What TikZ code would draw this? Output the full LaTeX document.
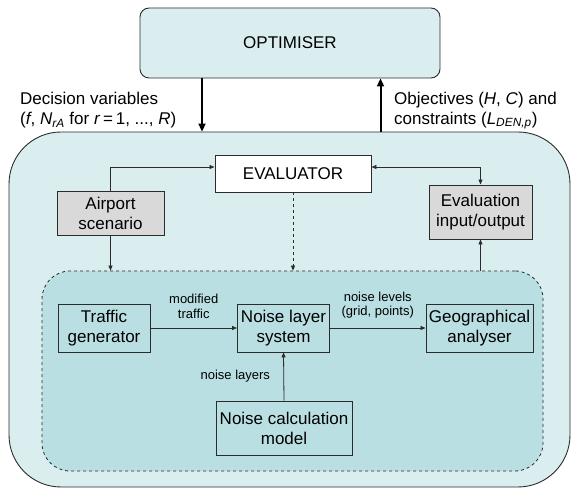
\documentclass[tikz,border=0pt]{standalone}
\usepackage{fontspec}
\setmainfont{Liberation Sans}
\usetikzlibrary{arrows.meta,calc}
\definecolor{outerfill}{HTML}{DAEEF0}
\definecolor{innerfill}{HTML}{B9DFE2}
\definecolor{grayfill}{HTML}{D9D9D9}
\definecolor{edge}{HTML}{2B2B2B}
\tikzset{
  big/.style={font=\fontsize{17}{20}\selectfont},
  small/.style={font=\fontsize{13}{14.5}\selectfont},
  box/.style={draw=edge, line width=0.9pt, inner sep=0pt, align=center, big},
  whitebox/.style={box, fill=white},
  graybox/.style={box, fill=grayfill},
  modbox/.style={box, fill=innerfill},
  conn/.style={draw=edge, line width=0.8pt, -{Triangle[length=5pt,width=4pt]}},
  bothconn/.style={draw=edge, line width=0.8pt, {Triangle[length=5pt,width=4pt]}-{Triangle[length=5pt,width=4pt]}},
  mainarrow/.style={draw=black, line width=2pt, -{Triangle[length=8pt,width=7pt]}},
  lbl/.style={inner sep=0pt, align=left, big},
}
\begin{document}
\begin{tikzpicture}[x=1pt,y=-1pt]
\useasboundingbox (0,0) rectangle (571,489);
% containers
\node[draw=edge, line width=0.9pt, fill=outerfill, rounded corners=52pt,
      minimum width=561pt, minimum height=355pt, inner sep=0pt] (outer) at (289.5,309.5) {};
\node[draw=edge, line width=0.8pt, dashed, fill=innerfill, rounded corners=28pt,
      minimum width=501pt, minimum height=200pt, inner sep=0pt] (inner) at (292.5,371) {};
\node[box, fill=outerfill, rounded corners=9pt, minimum width=300pt, minimum height=70pt] (opt) at (290,43) {OPTIMISER};
% helper coordinates
\coordinate (xa) at (202,0);
\coordinate (xb) at (380.5,0);
\coordinate (yl) at (0,167);
% nodes
\node[whitebox, minimum width=156pt, minimum height=37pt] (eval) at (293,173.5) {EVALUATOR};
\node[graybox, minimum width=107pt, minimum height=44pt] (airport) at (110.5,213) {Airport\\scenario};
\node[graybox, minimum width=103pt, minimum height=54pt] (evalio) at (480.5,212) {Evaluation\\input/output};
\node[modbox, minimum width=92pt, minimum height=48pt] (traffic) at (104,328) {Traffic\\generator};
\node[modbox, minimum width=92pt, minimum height=48pt] (nls) at (283.5,328) {Noise layer\\system};
\node[modbox, minimum width=107pt, minimum height=48pt] (geo) at (479.5,328) {Geographical\\analyser};
\node[modbox, minimum width=136pt, minimum height=54pt] (ncm) at (284,428) {Noise calculation\\model};
% optimiser <-> evaluator
\draw[mainarrow] (opt.south -| xa) -- (outer.north -| xa);
\draw[mainarrow] (outer.north -| xb) -- (opt.south -| xb);
\node[lbl, anchor=west] (dv) at (20,110.5) {Decision variables\\(\textit{f}, \textit{N}\textsubscript{\textit{rA}} for \textit{r}\,=\,1, ..., \textit{R})};
\node[lbl, anchor=west] (obj) at (394,110.5) {Objectives (\textit{H}, \textit{C}) and\\constraints (\textit{L}\textsubscript{\textit{DEN,p}})};
% evaluator links
\draw[conn] (airport.north) |- (eval.west |- yl);
\draw[bothconn] (eval.east |- yl) -| (evalio.north);
\draw[conn, dashed] (eval.south) -- (inner.north -| eval.south);
\draw[conn] (airport.south) -- (inner.north -| airport.south);
\draw[conn] (inner.north -| evalio.south) -- (evalio.south);
% module links
\draw[conn] (traffic.east) -- node[small, above=6pt, align=center] (lmt) {modified\\traffic} (nls.west);
\draw[conn] (nls.east) -- node[small, above=6pt, align=center] (lnl) {noise levels\\(grid, points)} (geo.west);
\draw[conn] (ncm.north) -- node[small, left=10pt] (lnly) {noise layers} (nls.south);
\end{tikzpicture}
\end{document}
